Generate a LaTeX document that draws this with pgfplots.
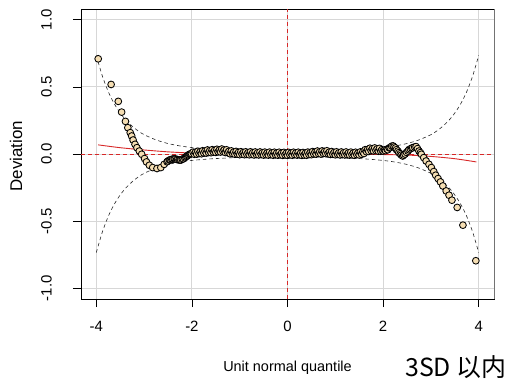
\documentclass[border=0pt]{standalone}
\usepackage{pgfplots}
\pgfplotsset{compat=1.18}
\usepackage{fontspec}
\setmainfont{Liberation Sans}
\newfontfamily\cjk{Noto Sans CJK SC}
\definecolor{wheatc}{RGB}{245,222,179}
\definecolor{redl}{RGB}{215,40,40}
\definecolor{gridc}{RGB}{215,215,215}

\pgfplotstableread{
x y
-3.96 0.709
-3.69 0.518
-3.54 0.392
-3.47 0.312
-3.39 0.243
-3.34 0.196
-3.29 0.159
-3.26 0.134
-3.23 0.104
-3.19 0.072
-3.15 0.047
-3.10 0.022
-3.05 -0.002
-2.99 -0.034
-2.95 -0.059
-2.89 -0.084
-2.82 -0.101
-2.73 -0.108
-2.65 -0.101
-2.58 -0.077
-2.52 -0.058
-2.50 -0.052
-2.47 -0.045
-2.45 -0.043
-2.42 -0.040
-2.40 -0.038
-2.37 -0.036
-2.35 -0.037
-2.32 -0.040
-2.30 -0.042
-2.27 -0.044
-2.25 -0.045
-2.23 -0.045
-2.20 -0.040
-2.18 -0.035
-2.15 -0.028
-2.13 -0.022
-2.11 -0.017
-2.09 -0.012
-2.07 -0.007
-2.05 -0.002
-2.03 0.000
-2.01 0.003
-1.975 0.014
-1.950 -0.002
-1.925 0.013
-1.900 -0.001
-1.875 0.020
-1.850 0.003
-1.825 0.017
-1.800 0.002
-1.775 0.024
-1.750 0.007
-1.725 0.022
-1.700 0.007
-1.675 0.030
-1.650 0.011
-1.625 0.025
-1.600 0.010
-1.575 0.032
-1.550 0.014
-1.525 0.027
-1.500 0.012
-1.475 0.035
-1.450 0.016
-1.425 0.030
-1.400 0.015
-1.375 0.037
-1.350 0.019
-1.325 0.030
-1.300 0.011
-1.275 0.031
-1.250 0.010
-1.225 0.020
-1.200 0.002
-1.175 0.023
-1.150 0.003
-1.125 0.015
-1.100 -0.002
-1.075 0.019
-1.050 -0.001
-1.025 0.012
-1.000 -0.005
-0.975 0.017
-0.950 -0.002
-0.925 0.011
-0.900 -0.005
-0.875 0.016
-0.850 -0.003
-0.825 0.010
-0.800 -0.006
-0.775 0.016
-0.750 -0.003
-0.725 0.010
-0.700 -0.007
-0.675 0.015
-0.650 -0.004
-0.625 0.009
-0.600 -0.007
-0.575 0.015
-0.550 -0.004
-0.525 0.009
-0.500 -0.008
-0.475 0.014
-0.450 -0.005
-0.425 0.008
-0.400 -0.008
-0.375 0.014
-0.350 -0.005
-0.325 0.008
-0.300 -0.009
-0.275 0.013
-0.250 -0.006
-0.225 0.007
-0.200 -0.009
-0.175 0.013
-0.150 -0.006
-0.125 0.006
-0.100 -0.010
-0.075 0.012
-0.050 -0.007
-0.025 0.006
0.000 -0.010
0.025 0.012
0.050 -0.006
0.075 0.007
0.100 -0.009
0.125 0.013
0.150 -0.005
0.175 0.008
0.200 -0.008
0.225 0.013
0.250 -0.006
0.275 0.006
0.300 -0.010
0.325 0.011
0.350 -0.008
0.375 0.006
0.400 -0.009
0.425 0.014
0.450 -0.004
0.475 0.010
0.500 -0.005
0.525 0.018
0.550 0.000
0.575 0.014
0.600 -0.001
0.625 0.022
0.650 0.003
0.675 0.016
0.700 0.000
0.725 0.023
0.750 0.005
0.775 0.019
0.800 0.003
0.825 0.024
0.850 0.003
0.875 0.014
0.900 -0.003
0.925 0.018
0.950 -0.002
0.975 0.011
1.000 -0.006
1.025 0.016
1.050 -0.003
1.075 0.009
1.100 -0.007
1.125 0.015
1.150 -0.004
1.175 0.009
1.200 -0.007
1.225 0.015
1.250 -0.005
1.275 0.008
1.300 -0.008
1.325 0.014
1.350 -0.006
1.375 0.007
1.400 -0.009
1.425 0.013
1.450 -0.005
1.475 0.008
1.500 -0.007
1.525 0.016
1.550 -0.002
1.575 0.015
1.600 0.004
1.625 0.032
1.650 0.017
1.675 0.033
1.700 0.019
1.725 0.043
1.750 0.025
1.775 0.039
1.800 0.023
1.825 0.045
1.850 0.026
1.875 0.038
1.900 0.021
1.925 0.042
1.950 0.021
1.975 0.032
2.00 0.022
2.03 0.030
2.05 0.025
2.08 0.036
2.10 0.032
2.13 0.045
2.15 0.048
2.18 0.058
2.21 0.060
2.23 0.052
2.26 0.045
2.28 0.032
2.31 0.022
2.33 0.010
2.36 0.002
2.38 -0.008
2.41 -0.015
2.43 -0.008
2.46 0.000
2.49 0.012
2.52 0.022
2.54 0.032
2.57 0.038
2.60 0.044
2.62 0.047
2.66 0.052
2.69 0.055
2.72 0.040
2.75 0.022
2.78 0.010
2.80 -0.002
2.85 -0.027
2.90 -0.052
2.96 -0.077
3.01 -0.101
3.06 -0.131
3.10 -0.158
3.15 -0.183
3.20 -0.208
3.25 -0.238
3.32 -0.275
3.38 -0.307
3.44 -0.344
3.55 -0.398
3.67 -0.530
3.94 -0.795
}\worm

\pgfplotstableread{
x up lo
-4 0.734 -0.734
-3.875 0.583 -0.583
-3.75 0.465 -0.465
-3.625 0.375 -0.375
-3.5 0.305 -0.305
-3.375 0.250 -0.250
-3.25 0.207 -0.207
-3.125 0.172 -0.172
-3 0.144 -0.144
-2.75 0.105 -0.105
-2.5 0.078 -0.078
-2.25 0.060 -0.060
-2 0.048 -0.048
-1.75 0.040 -0.040
-1.5 0.034 -0.034
-1 0.026 -0.026
-0.5 0.023 -0.023
0 0.022 -0.022
0.5 0.023 -0.023
1 0.026 -0.026
1.5 0.034 -0.034
1.75 0.040 -0.040
2 0.048 -0.048
2.25 0.060 -0.060
2.5 0.078 -0.078
2.75 0.105 -0.105
3 0.144 -0.144
3.125 0.172 -0.172
3.25 0.207 -0.207
3.375 0.250 -0.250
3.5 0.305 -0.305
3.625 0.375 -0.375
3.75 0.465 -0.465
3.875 0.583 -0.583
4 0.734 -0.734
}\ci

\pgfplotstableread{
x y
-3.96 0.068
-3.5 0.047
-3 0.030
-2.5 0.016
-2 0.007
-1.5 0.002
-1 0.000
0 0.000
1 -0.001
1.5 -0.002
2 -0.004
2.5 -0.008
3 -0.018
3.5 -0.035
3.95 -0.059
}\fit

\begin{document}
\begin{tikzpicture}
\begin{axis}[
  at={(0,0)}, anchor=south west,
  scale only axis, width=413bp, height=290bp,
  xmin=-4.32, xmax=4.32, ymin=-1.08, ymax=1.08,
  xtick={-4,-2,0,2,4}, xticklabels={-4,-2,0,2,4},
  ytick={-1,-0.5,0,0.5,1}, yticklabels={-1.0,-0.5,0.0,0.5,1.0},
  xtick pos=bottom, ytick pos=left,
  tick align=outside, major tick length=8bp,
  tick style={black, line width=0.7bp},
  grid=major, grid style={gridc, line width=0.8bp},
  axis line style={black, line width=0.9bp},
  ticklabel style={font=\fontsize{15}{18}\selectfont},
  xticklabel style={anchor=north, inner sep=0pt},
  xticklabel shift=14bp,
  yticklabel style={rotate=90, anchor=south, inner sep=0pt},
  yticklabel shift=21bp,
  xlabel={Unit normal quantile},
  xlabel style={at={(axis description cs:0.5,0)}, anchor=base, yshift=-72bp, font=\fontsize{14.5}{17}\selectfont, inner sep=0pt},
  clip=true,
]
\addplot[redl, line width=0.9bp, dash pattern=on 4bp off 3bp] coordinates {(-4.32,0) (4.32,0)};
\addplot[redl, line width=1.6bp, dash pattern=on 4bp off 3bp] coordinates {(0,-1.08) (0,1.08)};
\addplot[black!85, line width=0.6bp, dash pattern=on 3.5bp off 3bp, smooth] table[x=x,y=up] {\ci};
\addplot[black!85, line width=0.6bp, dash pattern=on 3.5bp off 3bp, smooth] table[x=x,y=lo] {\ci};
\addplot[only marks, mark=*, mark size=3.4bp, mark options={fill=wheatc, draw=black, line width=0.85bp}] table[x=x,y=y] {\worm};
\addplot[redl, line width=0.9bp, smooth] table[x=x,y=y] {\fit};
\end{axis}
\draw[black!55, line width=1.4bp] (413.3bp,0bp) -- (413.3bp,290bp);
\node[rotate=90, anchor=center, inner sep=0pt, font=\fontsize{17}{20}\selectfont] at (-65bp,143bp) {Deviation};
\node[anchor=base west, inner sep=0pt, font=\cjk\fontsize{25}{28}\selectfont] at (324bp,-77bp) {3SD 以内};
\pgfresetboundingbox
\useasboundingbox (-81bp,-84bp) rectangle (429bp,299bp);
\end{tikzpicture}
\end{document}
